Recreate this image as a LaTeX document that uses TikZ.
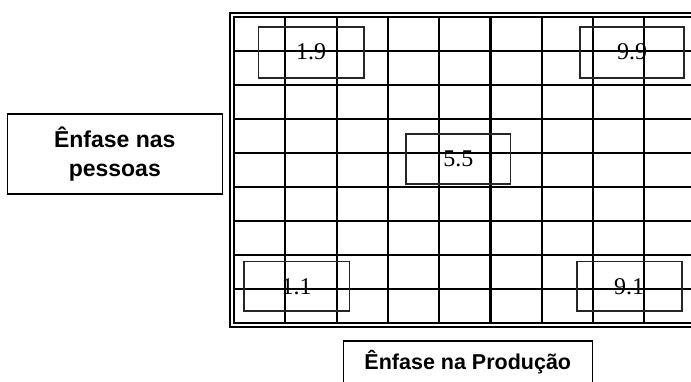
\documentclass[tikz,border=0pt]{standalone}
\usepackage{fontspec}
\setmainfont{Liberation Serif}
\newfontfamily\labelfont{Liberation Sans}
\begin{document}
\begin{tikzpicture}[x=1pt,y=-1pt,
  gridline/.style={line width=2.1pt,black},
  border/.style={line width=2.1pt,black},
  valbox/.style={draw=black!85,line width=1.6pt,rectangle,inner sep=0pt,
    font=\fontsize{24}{26}\selectfont},
  labelbox/.style={draw=black,line width=1.5pt,rectangle,inner sep=0pt,align=center,
    font=\labelfont\bfseries\fontsize{21.5}{28}\selectfont}]
\useasboundingbox (0,0) rectangle (691,381);
\clip (0,0) rectangle (691,381);
% double border
\draw[border] (700,13.3) -- (230.3,13.3) -- (230.3,326.7) -- (700,326.7);
\draw[border] (700,17.3) -- (234,17.3) -- (234,322.7) -- (700,322.7);
% grid
\foreach \k in {1,...,8} {
  \draw[gridline] ({234+51.3*\k},17.3) -- ({234+51.3*\k},322.7);
  \draw[gridline] (234,{17.3+33.93*\k}) -- (700,{17.3+33.93*\k});
}
% value boxes
\node[valbox,minimum width=105.7pt,minimum height=51pt] (a19) at (311.2,52.2) {1.9};
\node[valbox,minimum width=104pt,minimum height=51pt] (a99) at (632,52.2) {9.9};
\node[valbox,minimum width=104.7pt,minimum height=50pt] (a55) at (458.3,159) {5.5};
\node[valbox,minimum width=105.3pt,minimum height=49.3pt] (a11) at (296.7,286.3) {1.1};
\node[valbox,minimum width=105pt,minimum height=49.3pt] (a91) at (629.2,286.3) {9.1};
% labels
\node[labelbox,minimum width=215pt,minimum height=80pt,
  font=\labelfont\bfseries\fontsize{23}{28.5}\selectfont] (pessoas) at (114.8,154) {Ênfase nas\\pessoas};
\node[labelbox,minimum width=249pt,minimum height=43.4pt,anchor=north] (producao) at (467.8,340) {Ênfase na Produção};
\end{tikzpicture}
\end{document}
